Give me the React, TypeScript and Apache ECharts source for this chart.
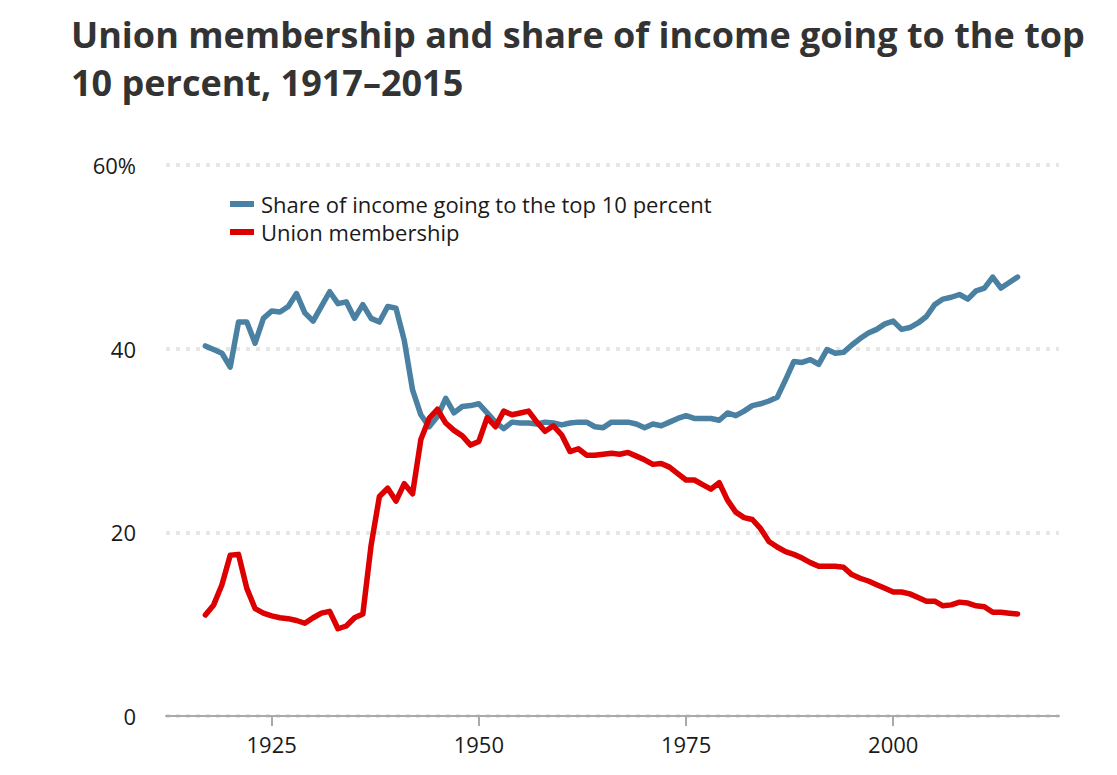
import React, { useEffect, useRef } from "react";
import * as echarts from "echarts";

const TITLE = "Union membership and share of income going to the top\n10 percent, 1917–2015";
const SERIES_NAMES = ["Share of income going to the top 10 percent", "Union membership"];
const FIRST_YEAR = 1917;
const YEARS: number[] = Array.from({ length: 99 }, (_, i) => FIRST_YEAR + i);
const X_TICKS = [1925, 1950, 1975, 2000];
const Y_TICKS = [0, 20, 40, 60];

// 1917–2015
const TOP10_SHARE = [
  40.3, 39.9, 39.5, 38.0, 42.9, 42.9, 40.6, 43.3, 44.1, 44.0, // 1917-1926
  44.6, 46.0, 43.9, 43.0, 44.6, 46.2, 44.9, 45.1, 43.3, 44.8, // 1927-1936
  43.3, 42.9, 44.6, 44.4, 40.9, 35.5, 32.8, 31.5, 32.6, 34.6, // 1937-1946
  33.0, 33.7, 33.8, 34.0, 33.0, 32.0, 31.3, 32.0, 31.9, 31.9, // 1947-1956
  31.8, 32.0, 31.9, 31.7, 31.9, 32.0, 32.0, 31.5, 31.4, 32.0, // 1957-1966
  32.0, 32.0, 31.8, 31.4, 31.8, 31.6, 32.0, 32.4, 32.7, 32.4, // 1967-1976
  32.4, 32.4, 32.2, 33.0, 32.7, 33.2, 33.8, 34.0, 34.3, 34.7, // 1977-1986
  36.6, 38.6, 38.5, 38.8, 38.3, 39.9, 39.5, 39.6, 40.4, 41.1, // 1987-1996
  41.7, 42.1, 42.7, 43.0, 42.1, 42.3, 42.8, 43.5, 44.8, 45.4, // 1997-2006
  45.6, 45.9, 45.4, 46.3, 46.6, 47.8, 46.6, 47.2, 47.8,       // 2007-2015
];

const UNION_MEMBERSHIP = [
  11.0, 12.1, 14.3, 17.5, 17.6, 13.9, 11.7, 11.2, 10.9, 10.7, // 1917-1926
  10.6, 10.4, 10.1, 10.7, 11.2, 11.4, 9.5, 9.8, 10.7, 11.1,   // 1927-1936
  18.6, 23.9, 24.8, 23.4, 25.3, 24.2, 30.1, 32.4, 33.4, 31.9, // 1937-1946
  31.1, 30.5, 29.5, 29.9, 32.5, 31.5, 33.2, 32.8, 33.0, 33.2, // 1947-1956
  32.0, 31.0, 31.6, 30.6, 28.8, 29.1, 28.4, 28.4, 28.5, 28.6, // 1957-1966
  28.5, 28.7, 28.3, 27.9, 27.4, 27.5, 27.1, 26.4, 25.7, 25.7, // 1967-1976
  25.2, 24.7, 25.4, 23.5, 22.2, 21.6, 21.4, 20.4, 19.0, 18.4, // 1977-1986
  17.9, 17.6, 17.2, 16.7, 16.3, 16.3, 16.3, 16.2, 15.4, 15.0, // 1987-1996
  14.7, 14.3, 13.9, 13.5, 13.5, 13.3, 12.9, 12.5, 12.5, 12.0, // 1997-2006
  12.1, 12.4, 12.3, 12.0, 11.9, 11.3, 11.3, 11.2, 11.1,       // 2007-2015
];

const FONT = "'Open Sans', Lato, sans-serif";

export default function App() {
  const ref = useRef<HTMLDivElement>(null);

  useEffect(() => {
    document.body.style.margin = "0";
    if (!ref.current) return;
    const chart = echarts.init(ref.current, null, { renderer: "svg" });
    const toPairs = (vals: number[]) => vals.map((v, i) => [YEARS[i], v]);

    chart.setOption({
      animation: false,
      backgroundColor: "#ffffff",
      textStyle: { fontFamily: FONT },
      title: {
        text: TITLE,
        left: 66,
        top: 5,
        textStyle: {
          fontFamily: FONT,
          fontWeight: "bold",
          fontSize: 36,
          lineHeight: 48,
          color: "#333333",
        },
      },
      legend: {
        orient: "vertical",
        left: 225,
        top: 188,
        icon: "rect",
        itemWidth: 24,
        itemHeight: 6,
        itemGap: 6,
        textStyle: {
          fontFamily: FONT,
          fontSize: 22,
          color: "#1a1a1a",
          padding: [0, 0, 0, 2],
        },
        data: SERIES_NAMES,
      },
      grid: { left: 166, right: 58, top: 165, bottom: 59, containLabel: false },
      xAxis: {
        type: "value",
        min: 1912.25,
        max: 2020,
        axisLine: { show: true, lineStyle: { color: "#aaaaaa", width: 2 } },
        axisTick: {
          show: true,
          customValues: X_TICKS,
          length: 10,
          lineStyle: { color: "#aaaaaa", width: 2 },
        },
        axisLabel: {
          customValues: X_TICKS,
          margin: 17,
          fontFamily: FONT,
          fontSize: 22,
          color: "#1a1a1a",
          formatter: (v: number) => String(v),
        },
        splitLine: { show: false },
      },
      yAxis: {
        type: "value",
        min: 0,
        max: 60,
        interval: 20,
        axisLine: { show: false },
        axisTick: { show: false },
        axisLabel: {
          margin: 30,
          fontFamily: FONT,
          fontSize: 22,
          color: "#1a1a1a",
          formatter: (v: number) => (v === 60 ? "60%" : String(v)),
        },
        splitLine: {
          show: true,
          lineStyle: { color: "#e6e6e6", width: 4, type: [4, 6] },
        },
      },
      series: [
        {
          name: SERIES_NAMES[0],
          type: "line",
          data: toPairs(TOP10_SHARE),
          showSymbol: false,
          symbol: "none",
          lineStyle: { color: "#4a80a2", width: 5.5, cap: "round", join: "round" },
          itemStyle: { color: "#4a80a2" },
          z: 3,
        },
        {
          name: SERIES_NAMES[1],
          type: "line",
          data: toPairs(UNION_MEMBERSHIP),
          showSymbol: false,
          symbol: "none",
          lineStyle: { color: "#dd0000", width: 5.5, cap: "round", join: "round" },
          itemStyle: { color: "#dd0000" },
          z: 4,
        },
      ],
    });

    return () => chart.dispose();
  }, []);

  return <div ref={ref} style={{ width: 1117, height: 775 }} />;
}
